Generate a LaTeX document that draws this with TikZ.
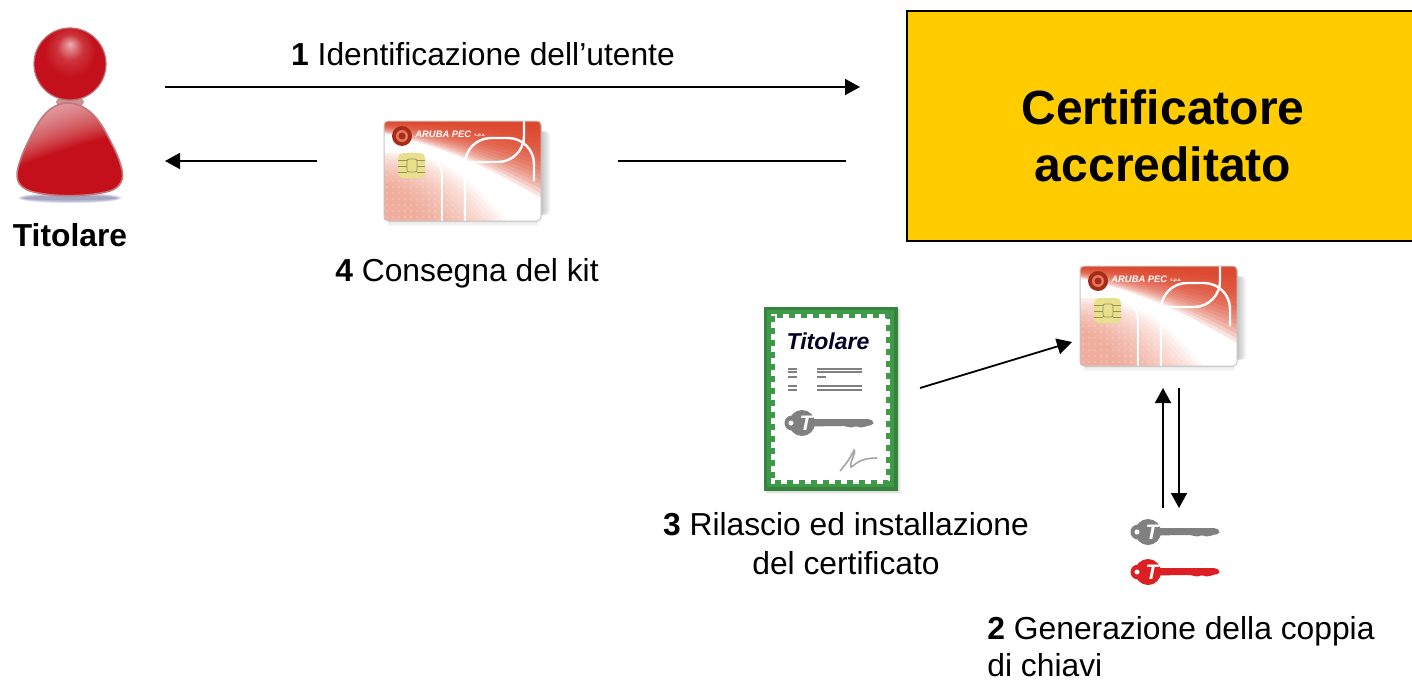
\documentclass[tikz,border=0pt]{standalone}
\usepackage{fontspec}
\setmainfont{Liberation Sans}
\usetikzlibrary{arrows.meta,calc}
\definecolor{boxyellow}{HTML}{FFCC00}
\definecolor{cardred}{HTML}{DC3A1E}
\definecolor{cardsalmon}{HTML}{F0907A}
\definecolor{chipy}{HTML}{E8E08C}
\definecolor{persred}{HTML}{C4101A}
\definecolor{persdark}{HTML}{8E0A10}
\definecolor{certgreen}{HTML}{3E9A48}
\definecolor{keygray}{HTML}{808080}
\definecolor{keyred}{HTML}{DC1F24}
\pgfdeclareradialshading{headsh}{\pgfpoint{0bp}{14bp}}{
  color(0bp)=(white!65!persred); color(9bp)=(white!15!persred); color(18bp)=(persred);
  color(34bp)=(persred); color(44bp)=(persdark); color(50bp)=(persdark)}
\tikzset{
  lbl/.style={font=\fontsize{15.9}{19}\selectfont, text=black, inner sep=0pt},
  boxtext/.style={font=\fontsize{24}{28}\selectfont\bfseries, inner sep=0pt, anchor=base},
  conn/.style={line width=0.9pt, draw=black},
  arr/.style={conn, -{Triangle[length=7.5pt,width=8pt]}},
  titlebox/.style={draw=black, line width=0.9pt, fill=boxyellow},
  card/.pic={
    \foreach \t in {1,...,6}{
      \fill[gray, opacity=0.09, rounded corners=2] (150,10) rectangle (157+\t*1.5,94);
    }
    \foreach \t in {1,...,4}{
      \fill[gray, opacity=0.06] (4,100) rectangle (154,100+\t*1.2);
    }
    \begin{scope}
      \clip[rounded corners=2] (0,0) rectangle (157,100);
      \fill[white] (0,0) rectangle (157,100);
      \foreach \t in {0,...,15}{
        \fill[cardsalmon, opacity=0.07] (0,100) -- (0,{62-2.2*\t}) .. controls ({30+3*\t},{75-3*\t}) and ({30+5*\t},85) .. ({42+5.5*\t},100) -- cycle;
      }
      \foreach \xx in {3,9,...,110}{
        \foreach \yy in {36,42,...,99}{
          \fill[white, opacity=0.2] (\xx,\yy) circle (1.2);
        }
      }
      \foreach \t in {0,...,15}{
        \fill[cardred, opacity=0.14] (0,0) -- (157,0) -- (157,{8+4.6*\t}) .. controls (120,{4+3.4*\t}) and (70,{2+1.7*\t}) .. (0,{1+0.75*\t}) -- cycle;
      }
      \draw[white, line width=1.2pt, rounded corners=13] (81,100) -- (81,17) -- (150,17) -- (150,60);
      \draw[white, line width=1.2pt, rounded corners=13] (140,0) -- (140,41) -- (81,41);
      \draw[white, line width=0.9pt, rounded corners=12] (0,31) -- (58,31) -- (58,100);
    \end{scope}
    \draw[gray!45, line width=0.5pt, rounded corners=2] (0,0) rectangle (157,100);
    \fill[cardred!75!black] (18,15) circle (10);
    \fill[cardred!70!white] (18,15) circle (6);
    \fill[cardred!75!black] (18,15) circle (3.5);
    \node[font=\fontsize{4.7}{5}\selectfont\bfseries\itshape, text=white, inner sep=0pt, anchor=west] at (31,13.5) {ARUBA PEC};
    \node[font=\fontsize{2.2}{3}\selectfont\bfseries, text=white, inner sep=0pt, anchor=west] at (90,14.5) {s.p.a.};
    \fill[chipy, rounded corners=2.5] (14,32) rectangle (41,57);
    \draw[chipy!65!black, line width=0.4pt, rounded corners=1] (23,38) rectangle (33,51);
    \draw[chipy!65!black, line width=0.4pt] (14,39) -- (23,39) (14,45) -- (23,45) (14,51) -- (23,51) (33,39) -- (41,39) (33,45) -- (41,45) (33,51) -- (41,51);
  },
  key/.pic={
    \fill[pic actions] (2,0) circle (13);
    \fill[pic actions] (-8,0) circle (7.5);
    \fill[pic actions, rounded corners=1] (0,-4) -- (70,-4) -- (74,-1) -- (73,2) -- (66,3) -- (62,5) -- (56,3) -- (50,5) -- (46,3) -- (0,3.5) -- cycle;
    \fill[white] (-9,0) circle (2.5);
    \node[font=\fontsize{10.5}{12}\selectfont\bfseries\itshape, text=white, inner sep=0pt] at (6,0) {T};
  },
}
\newcommand{\bodypath}{(68,103) .. controls (84,103) and (97,116) .. (105,131) .. controls (111,142) and (119,156) .. (122,170)
  .. controls (125,184) and (116,190) .. (106,192) .. controls (85,197) and (50,197) .. (30,191)
  .. controls (19,187) and (15,180) .. (18,168) .. controls (22,152) and (30,138) .. (37,125)
  .. controls (44,113) and (54,103) .. (68,103) -- cycle}
\begin{document}
\begin{tikzpicture}[x=0.5pt,y=-0.5pt]
\useasboundingbox (0,0) rectangle (1412,680);
\fill[white] (0,0) rectangle (1412,680);

% yellow box
\node[titlebox, minimum width=253pt, minimum height=115pt, anchor=north west, inner sep=0pt] (box) at (906,10) {};
\node[boxtext] (bt1) at (1163,124) {Certificatore};
\node[boxtext] (bt2) at (1163,181) {accreditato};

% person
\foreach \t in {1,...,5}{
  \fill[gray!80!blue, opacity=0.16] (70,198) ellipse ({53-\t*1.5} and {6-\t*0.8});
}
\fill[persdark!45!white] (70,102) ellipse (14 and 6);
\begin{scope}
  \clip \bodypath;
  \fill[persred] (0,95) rectangle (140,200);
  \foreach \t in {0,...,24}{
    \fill[white, opacity=0.04] (0,95) -- (140,95) -- (140,{130-2*\t}) .. controls (100,{137-2*\t}) and (50,{152-2*\t}) .. (0,{174-2*\t}) -- cycle;
  }
\end{scope}
\draw[persdark!55!white, line width=0.8pt] \bodypath;
\shade[shading=headsh, draw=persdark!60!white, line width=0.6pt] (70,64) circle (36);
\node[lbl, font=\fontsize{15.9}{19}\selectfont\bfseries, anchor=base] (tit) at (70,246) {Titolare};

% cards
\pic at (384,121) {card};
\pic at (1080,266) {card};

% certificate
\foreach \t in {1,...,3}{
  \fill[gray, opacity=0.1] (766,309) rectangle (898+\t,491+\t);
}
\fill[certgreen!85!black] (764,307) rectangle (898,491);
\fill[certgreen] (767,310) rectangle (894,487);
\fill[white] (771,314) rectangle (890,484);
\draw[certgreen, line width=2pt, dash pattern=on 3pt off 3pt] (773,316) rectangle (888,482);
\node[font=\fontsize{11.5}{13}\selectfont\bfseries\itshape, text=black!85!blue, inner sep=0pt, anchor=base] (certname) at (828,349) {Titolare};
\foreach \yy/\xa/\xb in {369/817/862, 372/817/862, 377/817/826, 386/817/862, 390/817/862}{
  \draw[gray, line width=0.9pt] (788,\yy) -- (797,\yy) (\xa,\yy) -- (\xb,\yy);
}
\pic[fill=keygray] at (800,423) {key};
\draw[gray!70, line width=0.8pt] (840,471) .. controls (846,464) and (851,457) .. (854,450) .. controls (857,452) and (849,462) .. (851,467) .. controls (855,466) and (857,458) .. (877,458);

% keys
\pic[fill=keygray] at (1146,532) {key};
\pic[fill=keyred] at (1146,572) {key};

% connector ends
\coordinate (a1) at (165,87);
\coordinate (b1) at (860,87);
\coordinate (a4) at (846,161);
\coordinate (b4) at (618,161);
\coordinate (c4) at (317,161);
\coordinate (d4) at (165,161);
\coordinate (a3) at (920,388);
\coordinate (b3) at (1072,342);
\coordinate (au) at (1163,508);
\coordinate (bu) at (1163,388);
\coordinate (ad) at (1179,388);
\coordinate (bd) at (1179,508);
\draw[arr] (a1) -- (b1);
\draw[conn] (a4) -- (b4);
\draw[arr] (c4) -- (d4);
\draw[arr] (a3) -- (b3);
\draw[arr] (au) -- (bu);
\draw[arr] (ad) -- (bd);

% labels
\node[lbl, anchor=base] (l1) at (483,65) {\textbf{1} Identificazione dell’utente};
\node[lbl, anchor=base] (l4) at (467,281) {\textbf{4} Consegna del kit};
\node[lbl, anchor=base] (l3a) at (846,535) {\textbf{3} Rilascio ed installazione};
\node[lbl, anchor=base] (l3b) at (846,574) {del certificato};
\node[lbl, anchor=base west] (l2a) at (987,639) {\textbf{2} Generazione della coppia};
\node[lbl, anchor=base west] (l2b) at (987,676) {di chiavi};
\end{tikzpicture}
\end{document}
